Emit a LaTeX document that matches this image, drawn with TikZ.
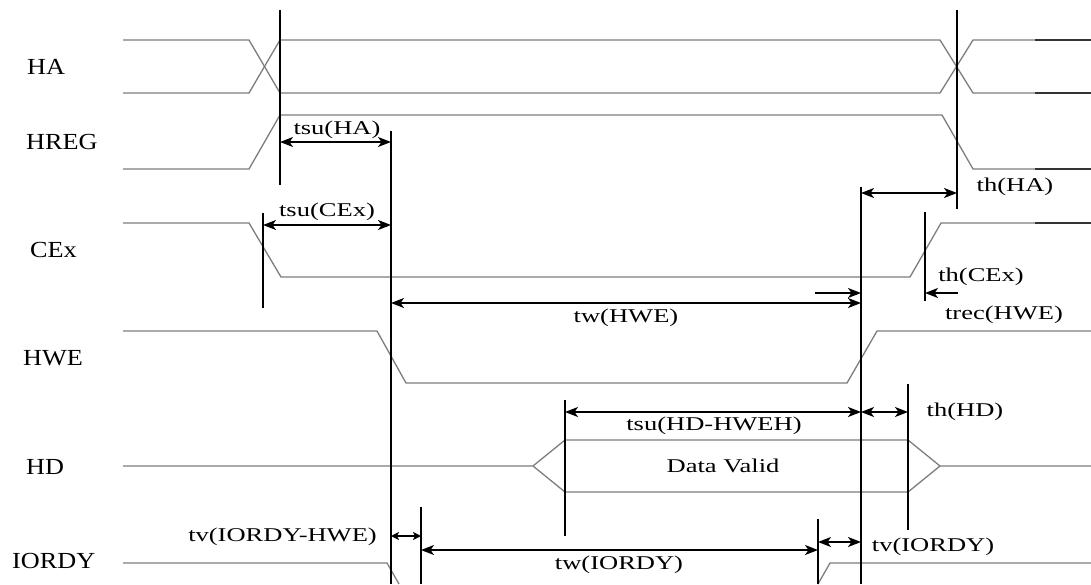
\documentclass[tikz,border=0pt]{standalone}
\usepackage{fontspec}
\setmainfont{Liberation Serif}
\newfontfamily\sigfont[FakeStretch=1.14]{Liberation Serif}
\newfontfamily\timefont[FakeStretch=1.36]{Liberation Serif}
\usetikzlibrary{arrows.meta}
\definecolor{wavegray}{RGB}{125,125,125}
\tikzset{
  tipbig/.tip={Stealth[length=13pt,width=10pt,inset=3.5pt]},
  tipsmall/.tip={Stealth[length=8pt,width=8pt,inset=2pt]},
}

\begin{document}
\begin{tikzpicture}[x=1pt,y=-1pt,
    wave/.style={draw=wavegray,line width=1.3pt},
    wavedark/.style={draw=black!80,line width=1.3pt},
    edgeline/.style={draw=black,line width=1.6pt},
    both/.style={line width=1.6pt,tipbig-tipbig},
    bothsmall/.style={line width=1.6pt,tipsmall-tipsmall},
    onto/.style={line width=1.6pt,-tipbig},
    signame/.style={font=\sigfont\fontsize{23}{25}\selectfont,inner sep=0pt,anchor=west},
    tname/.style={font=\timefont\fontsize{19.5}{21}\selectfont,inner sep=0pt}]
  \useasboundingbox (0,0) rectangle (1091,584);
  \clip (0,0) rectangle (1091,584);

  % Define the signal names
  \node[signame] (lHA)    at (27,67)  {HA};
  \node[signame] (lHREG)  at (26,142) {HREG};
  \node[signame] (lCEx)   at (30,250) {CEx};
  \node[signame] (lHWE)   at (23,358) {HWE};
  \node[signame] (lHD)    at (26,467) {HD};
  \node[signame] (lIORDY) at (12,561) {IORDY};

  % Draw the waveforms
  \draw[wave] (123,40) -- (249,40) -- (280,93) -- (940,93) -- (973,40) -- (1035,40);
  \draw[wave] (123,93) -- (249,93) -- (280,40) -- (940,40) -- (973,93) -- (1035,93);
  \draw[wave] (123,169) -- (249,169) -- (280,115) -- (942,115) -- (973,169) -- (1035,169);
  \draw[wave] (123,223) -- (249,223) -- (281,277) -- (910,277) -- (941,223) -- (1035,223);
  \draw[wave] (123,331) -- (377,331) -- (406,383) -- (847,383) -- (877,331) -- (1091,331);
  \draw[wave] (123,466) -- (533,466) -- (565,440) -- (908,440) -- (940,466) -- (1091,466);
  \draw[wave] (533,466) -- (565,492) -- (908,492) -- (940,466);
  \draw[wave] (123,563) -- (387,563) -- (399,584);
  \draw[wave] (818,584) -- (830,563) -- (1091,563);
  \draw[wavedark] (1035,40) -- (1091,40);
  \draw[wavedark] (1035,93) -- (1091,93);
  \draw[wavedark] (1035,169) -- (1091,169);
  \draw[wavedark] (1035,223) -- (1091,223);

  % Define the timing edges
  \coordinate (v1t) at (280,10);  \coordinate (v1b) at (280,185);
  \coordinate (v2t) at (391,131); \coordinate (v2b) at (391,584);
  \coordinate (v3t) at (957,10);  \coordinate (v3b) at (957,209);
  \coordinate (v4t) at (263,213); \coordinate (v4b) at (263,308);
  \coordinate (v5t) at (861,187); \coordinate (v5b) at (861,584);
  \coordinate (v6t) at (925,212); \coordinate (v6b) at (925,301);
  \coordinate (v7t) at (565,400); \coordinate (v7b) at (565,536);
  \coordinate (v8t) at (908,384); \coordinate (v8b) at (908,530);
  \coordinate (v9t) at (421,507); \coordinate (v9b) at (421,584);
  \coordinate (v10t) at (818,519); \coordinate (v10b) at (818,584);
  \coordinate (thce) at (958,293);
  \coordinate (trec) at (815,293);

  % Draw the timing edges
  \draw[edgeline] (v1t) -- (v1b);
  \draw[edgeline] (v2t) -- (v2b);
  \draw[edgeline] (v3t) -- (v3b);
  \draw[edgeline] (v4t) -- (v4b);
  \draw[edgeline] (v5t) -- (v5b);
  \draw[edgeline] (v6t) -- (v6b);
  \draw[edgeline] (v7t) -- (v7b);
  \draw[edgeline] (v8t) -- (v8b);
  \draw[edgeline] (v9t) -- (v9b);
  \draw[edgeline] (v10t) -- (v10b);

  % Draw the timing arrows
  \draw[both] (v1t |- 0,142) -- (v2t |- 0,142);
  \draw[both] (v4t |- 0,225) -- (v2t |- 0,225);
  \draw[both] (v5t |- 0,193) -- (v3t |- 0,193);
  \draw[onto] (thce) -- (v6t |- thce);
  \draw[onto] (trec) -- (v5t |- trec);
  \draw[both] (v2t |- 0,303) -- (v5t |- 0,303);
  \draw[both] (v7t |- 0,412) -- (v5t |- 0,412);
  \draw[both] (v5t |- 0,412) -- (v8t |- 0,412);
  \draw[bothsmall] (v2t |- 0,536) -- (v9t |- 0,536);
  \draw[both] (v9t |- 0,550) -- (v10t |- 0,550);
  \draw[both] (v10t |- 0,542) -- (v5t |- 0,542);

  % Label the timing arrows
  \node[tname] (tsuHA)  at (337,130) {tsu(HA)};
  \node[tname] (tsuCEx) at (327,212) {tsu(CEx)};
  \node[tname] (thHA)   at (1015,187) {th(HA)};
  \node[tname] (thCEx)  at (981,277) {th(CEx)};
  \node[tname] (trecHWE) at (1004,315) {trec(HWE)};
  \node[tname] (twHWE)  at (626,318) {tw(HWE)};
  \node[tname] (tsuHD)  at (714,426) {tsu(HD-HWEH)};
  \node[tname] (thHD)   at (965,412) {th(HD)};
  \node[tname] (valid)  at (723,466) {Data Valid};
  \node[tname,anchor=east] (tvIH) at (377,537) {tv(IORDY-HWE)};
  \node[tname] (twIO)   at (619,565) {tw(IORDY)};
  \node[tname] (tvIO)   at (933,547) {tv(IORDY)};
\end{tikzpicture}
\end{document}
